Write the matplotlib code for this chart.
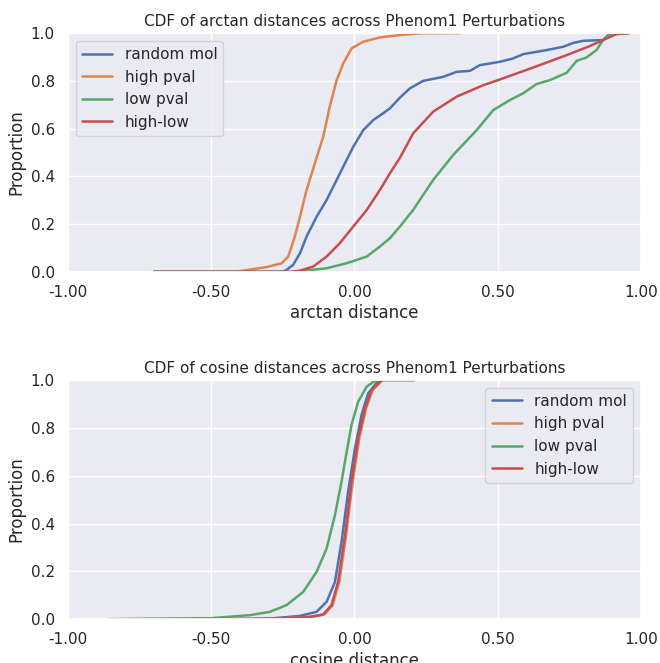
import numpy as np
import matplotlib
matplotlib.use("Agg")
import matplotlib.pyplot as plt
import seaborn as sns
from matplotlib.ticker import FormatStrFormatter

sns.set_theme(style="darkgrid")
plt.rcParams['font.family'] = ['DejaVu Sans']

labels = ["random mol", "high pval", "low pval", "high-low"]
colors = ["#4C72B0", "#DD8452", "#55A868", "#C44E52"]

# arctan distance CDF (x value at given proportion)
arctan_random_x = [-0.70, -0.25, -0.237, -0.214, -0.190, -0.167, -0.132, -0.097, -0.062, -0.033, -0.004,
                   0.031, 0.066, 0.100, 0.124, 0.159, 0.194, 0.240, 0.310, 0.357, 0.403, 0.438, 0.508,
                   0.554, 0.589, 0.671, 0.729, 0.764, 0.799, 0.868, 0.892, 0.903, 0.95]
arctan_random_p = [0.0, 0.0, 0.008, 0.029, 0.078, 0.148, 0.231, 0.301, 0.385, 0.455, 0.524,
                   0.594, 0.636, 0.664, 0.685, 0.730, 0.769, 0.800, 0.817, 0.838, 0.842, 0.866, 0.880,
                   0.894, 0.912, 0.929, 0.943, 0.959, 0.968, 0.971, 0.996, 1.0, 1.0]

arctan_high_x = [-0.70, -0.42, -0.388, -0.306, -0.254, -0.231, -0.208, -0.190, -0.167, -0.138, -0.109,
                 -0.086, -0.062, -0.039, -0.010, 0.031, 0.089, 0.159, 0.23, 0.37]
arctan_high_p = [0.0, 0.0, 0.005, 0.020, 0.036, 0.064, 0.148, 0.231, 0.343, 0.455, 0.566,
                 0.692, 0.803, 0.873, 0.936, 0.964, 0.982, 0.992, 0.999, 1.0]

arctan_low_x = [-0.70, -0.214, -0.097, -0.027, 0.043, 0.089, 0.124, 0.159, 0.205, 0.275, 0.345,
                0.427, 0.485, 0.543, 0.589, 0.636, 0.682, 0.741, 0.776, 0.810, 0.845, 0.868, 0.892, 0.95]
arctan_low_p = [0.0, 0.0, 0.015, 0.036, 0.064, 0.106, 0.141, 0.190, 0.259, 0.385, 0.490,
                0.594, 0.678, 0.720, 0.748, 0.787, 0.803, 0.834, 0.884, 0.898, 0.929, 0.971, 1.0, 1.0]

arctan_hl_x = [-0.70, -0.22, -0.190, -0.144, -0.097, -0.051, -0.004, 0.043, 0.089, 0.124, 0.159,
               0.205, 0.275, 0.357, 0.450, 0.508, 0.624, 0.741, 0.822, 0.868, 0.915, 0.962]
arctan_hl_p = [0.0, 0.0, 0.005, 0.022, 0.064, 0.120, 0.190, 0.259, 0.343, 0.413, 0.478,
               0.580, 0.671, 0.734, 0.782, 0.806, 0.856, 0.908, 0.946, 0.971, 0.996, 1.0]

# cosine distance CDF
cos_random_x = [-0.857, -0.40, -0.284, -0.190, -0.132, -0.097, -0.068, -0.045, -0.022, 0.002, 0.025,
                0.048, 0.083, 0.10, 0.21]
cos_random_p = [0.0, 0.001, 0.004, 0.014, 0.031, 0.073, 0.156, 0.324, 0.533, 0.714, 0.854,
                0.944, 0.996, 1.0, 1.0]

cos_high_x = [-0.857, -0.30, -0.151, -0.105, -0.076, -0.053, -0.029, -0.006, 0.017, 0.041, 0.064,
              0.099, 0.21]
cos_high_p = [0.0, 0.001, 0.010, 0.020, 0.059, 0.156, 0.351, 0.575, 0.756, 0.882, 0.958,
              1.0, 1.0]

cos_low_x = [-0.857, -0.505, -0.365, -0.295, -0.237, -0.179, -0.132, -0.097, -0.068, -0.045, -0.027,
             -0.010, 0.013, 0.043, 0.072, 0.10, 0.21]
cos_low_p = [0.0, 0.004, 0.017, 0.031, 0.059, 0.114, 0.198, 0.296, 0.435, 0.575, 0.700,
             0.812, 0.909, 0.972, 0.996, 1.0, 1.0]

cos_hl_x = [-0.857, -0.30, -0.155, -0.109, -0.080, -0.057, -0.033, -0.010, 0.013, 0.037, 0.060,
            0.095, 0.21]
cos_hl_p = [0.0, 0.001, 0.010, 0.020, 0.059, 0.156, 0.351, 0.575, 0.756, 0.882, 0.958,
            1.0, 1.0]

arctan_data = [(arctan_random_x, arctan_random_p), (arctan_high_x, arctan_high_p),
               (arctan_low_x, arctan_low_p), (arctan_hl_x, arctan_hl_p)]
cos_data = [(cos_random_x, cos_random_p), (cos_high_x, cos_high_p),
            (cos_low_x, cos_low_p), (cos_hl_x, cos_hl_p)]

fig = plt.figure(figsize=(6.6, 6.63), dpi=100)
ax1 = fig.add_axes([0.103, 0.590, 0.868, 0.360])
ax2 = fig.add_axes([0.103, 0.066, 0.868, 0.361])

panels = [
    (ax1, arctan_data, "CDF of arctan distances across Phenom1 Perturbations", "arctan distance", "upper left"),
    (ax2, cos_data, "CDF of cosine distances across Phenom1 Perturbations", "cosine distance", "upper right"),
]

for ax, data, title, xlabel, loc in panels:
    for (xs, ps), lab, c in zip(data, labels, colors):
        ax.plot(xs, ps, color=c, lw=1.8, label=lab)
    ax.set_xlim(-1, 1)
    ax.set_ylim(0, 1)
    ax.set_xticks([-1.0, -0.5, 0.0, 0.5, 1.0])
    ax.set_yticks([0.0, 0.2, 0.4, 0.6, 0.8, 1.0])
    ax.xaxis.set_major_formatter(FormatStrFormatter('%.2f'))
    ax.yaxis.set_major_formatter(FormatStrFormatter('%.1f'))
    ax.tick_params(labelsize=11)
    ax.set_title(title, fontsize=11, pad=5)
    ax.set_xlabel(xlabel, fontsize=12, labelpad=3)
    ax.set_ylabel("Proportion", fontsize=12)
    ax.legend(loc=loc, fontsize=11)

fig.savefig("out.png", dpi=100)
